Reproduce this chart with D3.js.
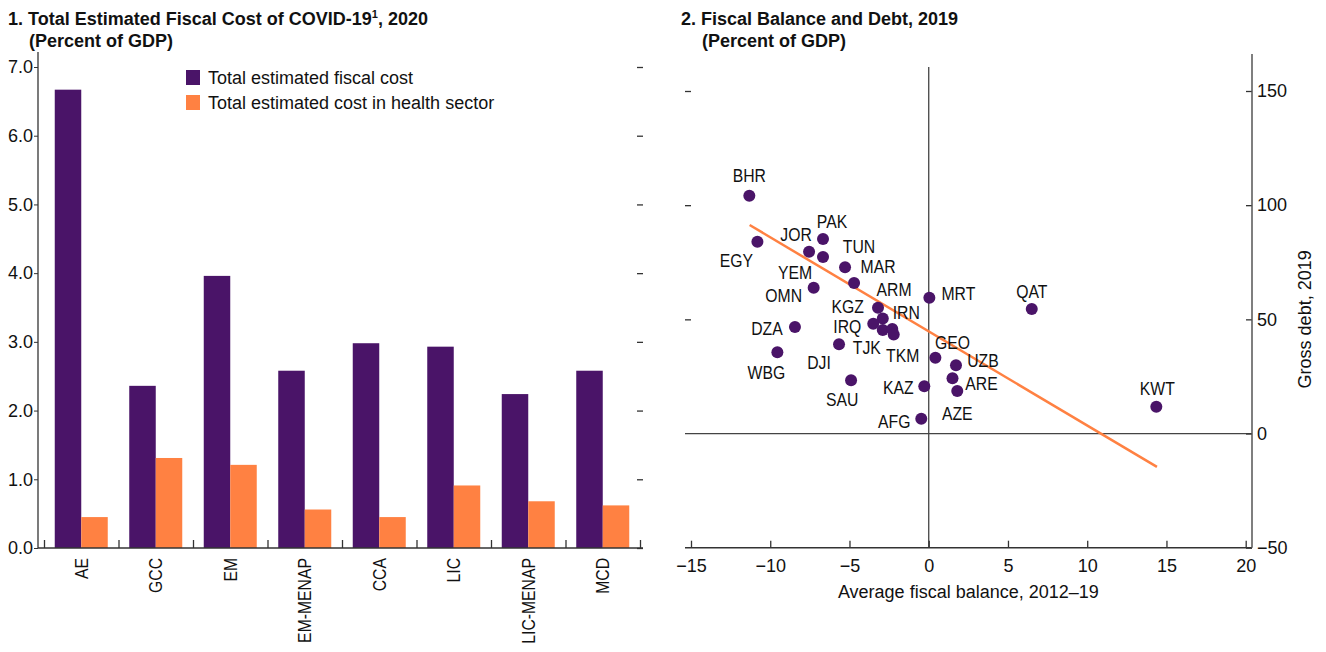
<!DOCTYPE html>
<html>
<head>
<meta charset="utf-8">
<script src="https://cdn.jsdelivr.net/npm/d3@7"></script>
<style>
  body { margin: 0; background: #fff; }
  svg text {
    font-family: "Liberation Sans", Arial, sans-serif;
    fill: #111;
  }
</style>
</head>
<body>
<svg id="chart" width="1326" height="652"></svg>
<script>
// panel 1 data
const categories = ["AE", "GCC", "EM", "EM-MENAP", "CCA", "LIC", "LIC-MENAP", "MCD"];
const fiscalCost = [6.67, 2.36, 3.96, 2.58, 2.98, 2.93, 2.24, 2.58];
const healthCost = [0.45, 1.31, 1.21, 0.56, 0.45, 0.91, 0.68, 0.62];
const costTicks = [0, 1, 2, 3, 4, 5, 6, 7];

// panel 2 data
const countries = ["BHR", "EGY", "JOR", "PAK", "YEM", "TUN", "MAR", "OMN", "DZA", "WBG",
  "DJI", "SAU", "ARM", "KGZ", "IRQ", "TJK", "IRN", "TKM", "MRT", "KAZ",
  "AFG", "GEO", "UZB", "ARE", "AZE", "QAT", "KWT"];
const balance = [-11.32, -10.81, -7.55, -6.67, -6.67, -5.28, -4.71, -7.26, -8.44, -9.55,
  -5.66, -4.90, -3.20, -2.90, -3.50, -2.90, -2.30, -2.21, 0.04, -0.28,
  -0.47, 0.42, 1.72, 1.50, 1.80, 6.50, 14.36];
const debt = [104.1, 84.0, 79.6, 85.2, 77.3, 72.8, 65.9, 63.8, 46.6, 35.6,
  39.1, 23.3, 55.1, 50.4, 48.1, 45.3, 45.8, 43.4, 59.5, 20.7,
  6.5, 33.2, 29.9, 24.2, 18.6, 54.5, 11.7];
const trendBalance = [-11.3, 14.4];
const trendDebt = [91.3, -14.6];
const balanceTicks = [-15, -10, -5, 0, 5, 10, 15, 20];
const debtTicks = [-50, 0, 50, 100, 150];

// label placement (text centre relative to the dot, px)
const labelPos = {
  BHR: [0, -20], EGY: [-21, 19], JOR: [-13, -17], PAK: [9, -18], YEM: [-28, 15],
  TUN: [14, -21], MAR: [24, -17], OMN: [-30, 7], DZA: [-28, 1], WBG: [-11, 20],
  DJI: [-20, 18], SAU: [-9, 19], ARM: [16, -18], KGZ: [-35, -12], IRQ: [-26, 3],
  TJK: [-16, 17], IRN: [14, -17], TKM: [9, 21], MRT: [29, -4], KAZ: [-26, 1],
  AFG: [-27, 3], GEO: [17, -15], UZB: [27, -5], ARE: [29, 5], AZE: [0, 22],
  QAT: [0, -18], KWT: [1, -18]
};

const purple = "#4a1468";
const orange = "#ff8142";
const axisColor = "#333";
const narrow = 0.83; // condensed look for the capital-letter labels
const svg = d3.select("#chart");

// ---------- Panel 1 ----------
const t1 = svg.append("text").attr("x", 8).attr("y", 25)
  .style("font-weight", "bold").style("font-size", "18px");
t1.append("tspan").text("1. Total Estimated Fiscal Cost of COVID-19");
t1.append("tspan").attr("dy", -7).style("font-size", "11px").text("1");
t1.append("tspan").attr("dy", 7).text(", 2020");
svg.append("text").attr("x", 29).attr("y", 47)
  .style("font-weight", "bold").style("font-size", "18px").text("(Percent of GDP)");

const x1 = d3.scaleBand().domain(categories).range([44, 640]);
const series = ["fiscal", "health"];
const xi = d3.scaleBand().domain(series).range([10.75, x1.bandwidth() - 10.75]);
const y1 = d3.scaleLinear().domain([0, 7]).range([548, 67]);

const barData = categories.map((c, i) => ({ c, fiscal: fiscalCost[i], health: healthCost[i] }));
const groups = svg.append("g").selectAll("g")
  .data(barData).enter().append("g")
  .attr("transform", (d) => `translate(${x1(d.c)},0)`);
groups.selectAll("rect")
  .data((d) => series.map((s) => ({ s, v: d[s] })))
  .enter().append("rect")
  .attr("x", (d) => xi(d.s))
  .attr("width", xi.bandwidth())
  .attr("y", (d) => y1(d.v))
  .attr("height", (d) => y1(0) - y1(d.v))
  .attr("fill", (d) => (d.s === "fiscal" ? purple : orange));

// left axis
const ax1 = svg.append("g").attr("transform", "translate(38,0)")
  .call(d3.axisLeft(y1).tickValues(costTicks).tickFormat(d3.format(".1f")).tickSize(4).tickPadding(1));
ax1.select(".domain").remove();
ax1.selectAll("line").attr("stroke", axisColor);
ax1.selectAll("text").style("font-size", "18px");
svg.append("line").attr("x1", 38).attr("x2", 38).attr("y1", 52).attr("y2", 548)
  .attr("stroke", axisColor).attr("stroke-width", 1.3);

// right dashes
const ar1 = svg.append("g").attr("transform", "translate(637,0)")
  .call(d3.axisRight(y1).tickValues(costTicks).tickFormat("").tickSize(6));
ar1.select(".domain").remove();
ar1.selectAll("line").attr("stroke", axisColor).attr("stroke-width", 1.3);

// bottom axis
const bounds = d3.scaleLinear().domain([0, categories.length]).range(x1.range());
const ab1 = svg.append("g").attr("transform", "translate(0,548)")
  .call(d3.axisBottom(bounds).ticks(categories.length).tickFormat("").tickSize(-8));
ab1.select(".domain").remove();
ab1.selectAll("line").attr("stroke", axisColor).attr("stroke-width", 1.3);
svg.append("line").attr("x1", 38).attr("x2", 643).attr("y1", 548).attr("y2", 548)
  .attr("stroke", axisColor).attr("stroke-width", 1.5);

const cat1 = svg.append("g").attr("transform", "translate(0,548)")
  .call(d3.axisBottom(x1).tickSize(0));
cat1.select(".domain").remove();
cat1.selectAll("text")
  .style("font-size", "19px")
  .attr("text-anchor", "end")
  .attr("transform", `rotate(-90) scale(${narrow},1)`)
  .attr("x", -10 / narrow).attr("y", 0).attr("dy", "0.35em");

// legend
const legend = [
  { label: "Total estimated fiscal cost", color: purple },
  { label: "Total estimated cost in health sector", color: orange }
];
const lg = svg.append("g").selectAll("g").data(legend).enter().append("g")
  .attr("transform", (d, i) => `translate(186,${70 + i * 25})`);
lg.append("rect").attr("width", 14).attr("height", 15).attr("fill", (d) => d.color);
lg.append("text").attr("x", 22).attr("y", 7.5).attr("dy", "0.35em")
  .style("font-size", "18px").text((d) => d.label);

// ---------- Panel 2 ----------
svg.append("text").attr("x", 681).attr("y", 25)
  .style("font-weight", "bold").style("font-size", "18px").text("2. Fiscal Balance and Debt, 2019");
svg.append("text").attr("x", 702).attr("y", 47)
  .style("font-weight", "bold").style("font-size", "18px").text("(Percent of GDP)");

const x2 = d3.scaleLinear().domain([-15, 20]).range([691, 1245.7]);
const y2 = d3.scaleLinear().domain([-50, 150]).range([547.7, 91]);
const left2 = 685, right2 = 1252;

// zero lines
svg.append("line").attr("x1", left2).attr("x2", right2).attr("y1", y2(0)).attr("y2", y2(0))
  .attr("stroke", "#444").attr("stroke-width", 1.3);
svg.append("line").attr("x1", x2(0)).attr("x2", x2(0)).attr("y1", 67).attr("y2", y2(-50))
  .attr("stroke", "#444").attr("stroke-width", 1.3);

// bottom axis
const ab2 = svg.append("g").attr("transform", `translate(0,${y2(-50)})`)
  .call(d3.axisBottom(x2).tickValues(balanceTicks).tickSize(-7).tickPadding(12)
    .tickFormat((d) => (d < 0 ? "\u2212" + Math.abs(d) : d)));
ab2.select(".domain").remove();
ab2.selectAll("line").attr("stroke", axisColor).attr("stroke-width", 1.3);
ab2.selectAll("text").style("font-size", "18px");
svg.append("line").attr("x1", left2).attr("x2", right2).attr("y1", y2(-50)).attr("y2", y2(-50))
  .attr("stroke", axisColor).attr("stroke-width", 1.5);

// right axis
const ar2 = svg.append("g").attr("transform", `translate(${right2},0)`)
  .call(d3.axisRight(y2).tickValues(debtTicks).tickSize(0).tickPadding(5)
    .tickFormat((d) => (d < 0 ? "\u2212" + Math.abs(d) : d)));
ar2.select(".domain").remove();
ar2.selectAll("text").style("font-size", "18px");
const ar2t = svg.append("g").attr("transform", `translate(${right2},0)`)
  .call(d3.axisLeft(y2).tickValues(debtTicks).tickFormat("").tickSize(6));
ar2t.select(".domain").remove();
ar2t.selectAll("line").attr("stroke", axisColor).attr("stroke-width", 1.3);
svg.append("line").attr("x1", right2).attr("x2", right2).attr("y1", 54).attr("y2", y2(-50))
  .attr("stroke", "#555").attr("stroke-width", 1.5);

// left dashes
const al2 = svg.append("g").attr("transform", `translate(${left2},0)`)
  .call(d3.axisRight(y2).tickValues([50, 100, 150]).tickFormat("").tickSize(6));
al2.select(".domain").remove();
al2.selectAll("line").attr("stroke", axisColor).attr("stroke-width", 1.3);

// axis titles
svg.append("text").attr("x", (x2(-15) + x2(20)) / 2).attr("y", 592).attr("dy", "0.35em")
  .attr("text-anchor", "middle").style("font-size", "18px").text("Average fiscal balance, 2012\u201319");
svg.append("text").attr("transform", `translate(1305,${(y2(-50) + y2(150)) / 2}) rotate(-90)`)
  .attr("dy", "0.35em").attr("text-anchor", "middle").style("font-size", "18px")
  .text("Gross debt, 2019");

// trend line
const trend = trendBalance.map((b, i) => [b, trendDebt[i]]);
svg.append("path").datum(trend)
  .attr("d", d3.line().x((d) => x2(d[0])).y((d) => y2(d[1])))
  .attr("stroke", orange).attr("stroke-width", 2.5).attr("fill", "none");

// dots and labels
const pts = countries.map((c, i) => ({ c, b: balance[i], d: debt[i] }));
svg.append("g").selectAll("circle").data(pts).enter().append("circle")
  .attr("cx", (d) => x2(d.b)).attr("cy", (d) => y2(d.d)).attr("r", 6)
  .attr("fill", purple);
svg.append("g").selectAll("text").data(pts).enter().append("text")
  .attr("transform", (d) =>
    `translate(${x2(d.b) + labelPos[d.c][0]},${y2(d.d) + labelPos[d.c][1]}) scale(${narrow},1)`)
  .attr("dy", "0.35em").attr("text-anchor", "middle")
  .style("font-size", "19px").text((d) => d.c);
</script>
</body>
</html>
